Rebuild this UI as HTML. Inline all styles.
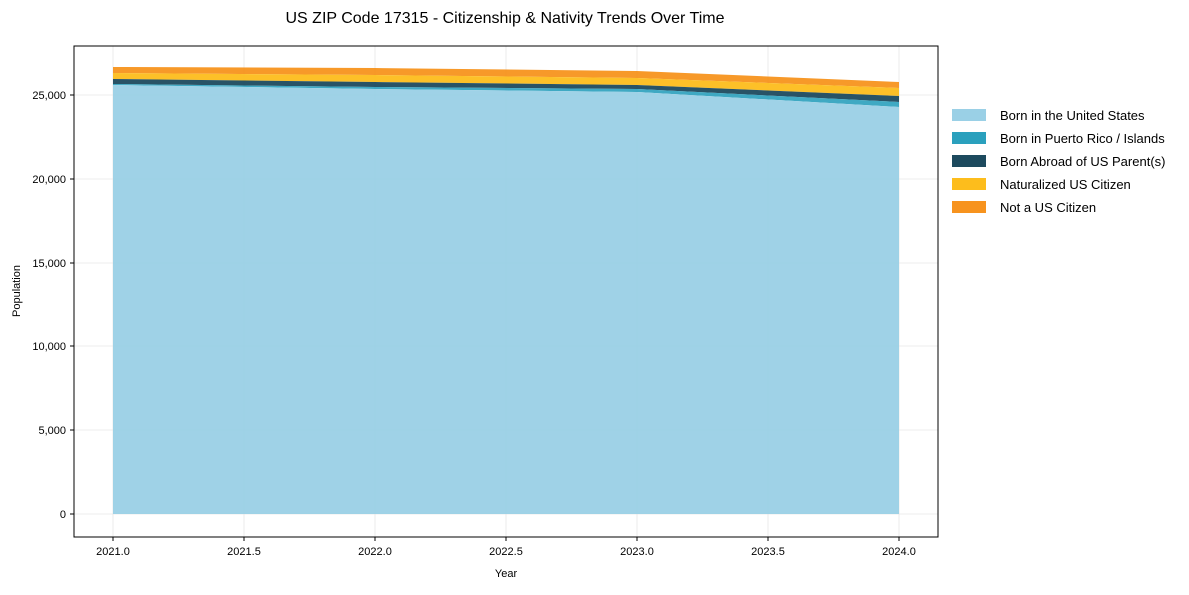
<!DOCTYPE html>
<html><head><style>
body{margin:0;background:#fff;}
svg text{font-family:"Liberation Sans",Arial,sans-serif;fill:#000;}
</style></head><body>
<svg width="1189" height="590" viewBox="0 0 1189 590" xmlns="http://www.w3.org/2000/svg">
<rect width="1189" height="590" fill="#fff"/>
<text x="505" y="23" font-size="16" text-anchor="middle">US ZIP Code 17315 - Citizenship &amp; Nativity Trends Over Time</text>
<g stroke="#e6e6e6" stroke-width="0.8">
<line x1="113" y1="46" x2="113" y2="537"/><line x1="244" y1="46" x2="244" y2="537"/>
<line x1="375" y1="46" x2="375" y2="537"/><line x1="506" y1="46" x2="506" y2="537"/>
<line x1="637" y1="46" x2="637" y2="537"/><line x1="768" y1="46" x2="768" y2="537"/>
<line x1="899" y1="46" x2="899" y2="537"/>
<line x1="74" y1="514" x2="938" y2="514"/><line x1="74" y1="430" x2="938" y2="430"/>
<line x1="74" y1="346" x2="938" y2="346"/><line x1="74" y1="263" x2="938" y2="263"/>
<line x1="74" y1="179" x2="938" y2="179"/><line x1="74" y1="95" x2="938" y2="95"/>
</g>
<polygon points="113,67 375,68 637,71 899,82 899,88 637,78 375,75 113,73" fill="#f7931e" opacity="0.95"/>
<polygon points="113,73 375,75 637,78 899,88 899,96 637,85 375,82 113,79" fill="#fdbd1c" opacity="0.95"/>
<polygon points="113,79 375,82 637,85 899,96 899,102 637,89 375,87 113,84" fill="#1d4a5e" opacity="0.95"/>
<polygon points="113,84 375,87 637,89 899,102 899,107 637,92 375,89 113,85" fill="#2aa0bd" opacity="0.9"/>
<polygon points="113,85 375,89 637,92 899,107 899,514 113,514" fill="#9ad0e6" opacity="0.95"/>
<rect x="74" y="46" width="864" height="491" fill="none" stroke="#000" stroke-width="1"/>
<g stroke="#000" stroke-width="1">
<line x1="113" y1="537" x2="113" y2="541"/><line x1="244" y1="537" x2="244" y2="541"/>
<line x1="375" y1="537" x2="375" y2="541"/><line x1="506" y1="537" x2="506" y2="541"/>
<line x1="637" y1="537" x2="637" y2="541"/><line x1="768" y1="537" x2="768" y2="541"/>
<line x1="899" y1="537" x2="899" y2="541"/>
<line x1="70" y1="514" x2="74" y2="514"/><line x1="70" y1="430" x2="74" y2="430"/>
<line x1="70" y1="346" x2="74" y2="346"/><line x1="70" y1="263" x2="74" y2="263"/>
<line x1="70" y1="179" x2="74" y2="179"/><line x1="70" y1="95" x2="74" y2="95"/>
</g>
<g font-size="11" text-anchor="middle">
<text x="113" y="555">2021.0</text><text x="244" y="555">2021.5</text><text x="375" y="555">2022.0</text>
<text x="506" y="555">2022.5</text><text x="637" y="555">2023.0</text><text x="768" y="555">2023.5</text>
<text x="899" y="555">2024.0</text>
<text x="506" y="577">Year</text>
</g>
<g font-size="11" text-anchor="end">
<text x="66" y="518">0</text><text x="66" y="434">5,000</text><text x="66" y="350">10,000</text>
<text x="66" y="267">15,000</text><text x="66" y="183">20,000</text><text x="66" y="99">25,000</text>
</g>
<text transform="translate(20,291) rotate(-90)" font-size="11" text-anchor="middle">Population</text>
<g font-size="13">
<rect x="952" y="109" width="34" height="12" fill="#9ad0e6"/><text x="1000" y="120">Born in the United States</text>
<rect x="952" y="132" width="34" height="12" fill="#2aa0bd"/><text x="1000" y="143">Born in Puerto Rico / Islands</text>
<rect x="952" y="155" width="34" height="12" fill="#1d4a5e"/><text x="1000" y="166">Born Abroad of US Parent(s)</text>
<rect x="952" y="178" width="34" height="12" fill="#fdbd1c"/><text x="1000" y="189">Naturalized US Citizen</text>
<rect x="952" y="201" width="34" height="12" fill="#f7931e"/><text x="1000" y="212">Not a US Citizen</text>
</g>
</svg>
</body></html>
